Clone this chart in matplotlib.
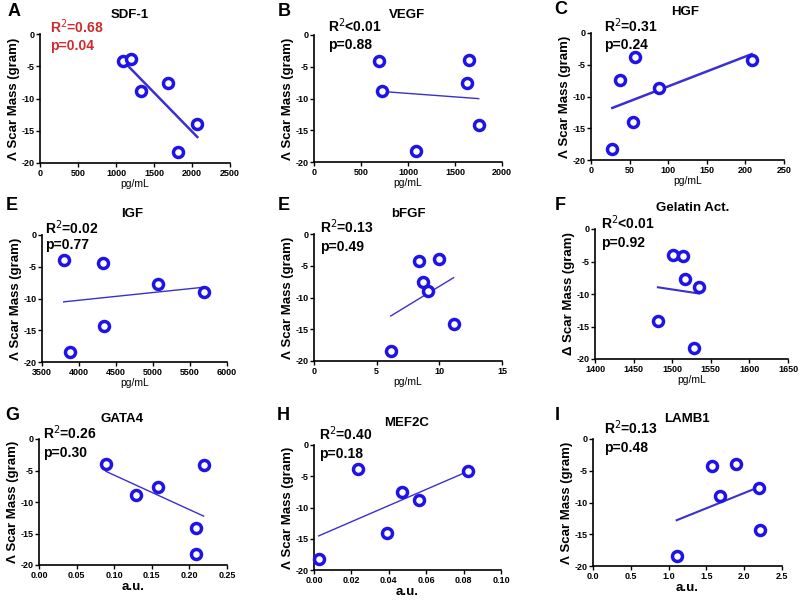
import numpy as np
import matplotlib
matplotlib.use("Agg")
import matplotlib.pyplot as plt

plt.rcParams['font.family'] = ['Liberation Sans', 'DejaVu Sans']
plt.rcParams['axes.unicode_minus'] = False

# scar mass change (gram) vs. each marker
sdf1_x = [1088, 1193, 1333, 1689, 1820, 2070]
sdf1_y = [-4.2, -3.9, -8.8, -7.6, -18.3, -14.0]
vegf_x = [691, 723, 1082, 1628, 1649, 1752]
vegf_y = [-4.1, -8.8, -18.3, -7.6, -3.95, -14.1]
hgf_x = [27.6, 37.9, 53.9, 56.5, 88.4, 208]
hgf_y = [-18.3, -7.4, -14.0, -3.8, -8.7, -4.2]
igf_x = [3793, 4324, 5068, 5685, 4338, 3874]
igf_y = [-4.0, -4.4, -7.7, -9.0, -14.3, -18.5]
bfgf_x = [8.4, 9.97, 8.67, 9.12, 11.14, 6.12]
bfgf_y = [-4.2, -4.0, -7.6, -9.0, -14.2, -18.4]
gel_x = [1500.4, 1513.4, 1516, 1535, 1481.5, 1527.6]
gel_y = [-3.96, -4.16, -7.66, -8.9, -14.1, -18.35]
gata4_x = [0.089, 0.1286, 0.1588, 0.2189, 0.209, 0.209]
gata4_y = [-3.98, -8.86, -7.64, -4.19, -14.06, -18.3]
mef2c_x = [0.0025, 0.0233, 0.0392, 0.047, 0.0562, 0.0826]
mef2c_y = [-18.3, -3.84, -14.08, -7.52, -8.85, -4.16]
lamb1_x = [1.107, 1.569, 1.683, 1.889, 2.197, 2.206]
lamb1_y = [-18.5, -4.2, -8.9, -3.9, -7.7, -14.3]

titles = ['SDF-1', 'VEGF', 'HGF', 'IGF', 'bFGF', 'Gelatin Act.', 'GATA4', 'MEF2C', 'LAMB1']
letters = ['A', 'B', 'C', 'E', 'E', 'F', 'G', 'H', 'I']
r2_text = ['=0.68', '<0.01', '=0.31', '=0.02', '=0.13', '<0.01', '=0.26', '=0.40', '=0.13']
p_text = ['p=0.04', 'p=0.88', 'p=0.24', 'p=0.77', 'p=0.49', 'p=0.92', 'p=0.30', 'p=0.18', 'p=0.48']
xdata = [sdf1_x, vegf_x, hgf_x, igf_x, bfgf_x, gel_x, gata4_x, mef2c_x, lamb1_x]
ydata = [sdf1_y, vegf_y, hgf_y, igf_y, bfgf_y, gel_y, gata4_y, mef2c_y, lamb1_y]
xticks = [np.arange(0, 2501, 500), np.arange(0, 2001, 500), np.arange(0, 251, 50),
          np.arange(3500, 6001, 500), np.arange(0, 16, 5), np.arange(1400, 1651, 50),
          np.arange(0, 0.26, 0.05), np.arange(0, 0.101, 0.02), np.arange(0, 2.51, 0.5)]
xfmt = ['%d', '%d', '%d', '%d', '%d', '%d', '%.2f', '%.2f', '%.1f']
xlabels = ['pg/mL'] * 6 + ['a.u.'] * 3

# layout, in pixels of the 800x601 picture: left, right, top, bottom
boxes = [(40, 230, 34, 163), (314, 502, 35, 162), (591, 784, 33, 160),
         (42, 227, 235, 362), (314, 502, 234, 361), (595, 788, 229, 359),
         (39, 227, 439, 565), (314, 501, 445, 570), (593, 782, 439, 566)]
letter_pos = [(14, 11), (284, 11), (561, 10), (12, 206), (284, 206), (560, 206),
              (12, 416), (283, 416), (557, 415)]
title_pos = [(130, 15), (407, 15), (685, 12), (132, 214), (408, 214), (693, 208),
             (122, 419), (407, 423), (687, 419)]
stat_pos = [(0.053, 1.06, 0.907), (0.074, 1.07, 0.92), (0.067, 1.055, 0.906),
            (0.016, 1.06, 0.92), (0.03, 1.055, 0.90), (0.03, 1.05, 0.89),
            (0.02, 1.05, 0.89), (0.027, 1.09, 0.93), (0.058, 1.09, 0.93)]
line_w = [1.8, 1.0, 1.8, 1.0, 1.0, 1.5, 1.0, 1.0, 1.5]

W, H = 800, 601
fig = plt.figure(figsize=(8, 6.01), dpi=100)

for i in range(9):
    l, r, t, b = boxes[i]
    ax = fig.add_axes([l / W, 1 - b / H, (r - l) / W, (b - t) / H])
    x = np.array(xdata[i])
    y = np.array(ydata[i])
    k, c = np.polyfit(x, y, 1)
    xs = np.array([x.min(), x.max()])
    ax.plot(xs, k * xs + c, color='#3a2fd2', lw=line_w[i], zorder=2)
    ax.plot(x, y, 'o', ms=7.2, mfc='white', mec='#1f14e8', mew=2.5, zorder=3, clip_on=False)

    ax.set_xlim(xticks[i][0], xticks[i][-1])
    ax.set_ylim(-20, 0)
    ax.set_xticks(xticks[i])
    ax.set_xticklabels([xfmt[i] % v for v in xticks[i]])
    ax.set_yticks([0, -5, -10, -15, -20])
    ax.tick_params(labelsize=6.5, length=3, width=1, pad=1)
    for lab in ax.get_xticklabels() + ax.get_yticklabels():
        lab.set_fontweight('bold')
    for s in ['top', 'right']:
        ax.spines[s].set_visible(False)
    for s in ['left', 'bottom']:
        ax.spines[s].set_linewidth(1.2)

    sym = '\u0394' if i == 5 else '\u039b'
    ax.set_ylabel(sym + ' Scar Mass (gram)', fontsize=9.5, fontweight='bold', labelpad=1)
    if xlabels[i] == 'a.u.':
        ax.set_xlabel('a.u.', fontsize=9.5, fontweight='bold', labelpad=1)
    else:
        ax.set_xlabel('pg/mL', fontsize=7.5, labelpad=1)

    col = '#d02a2e' if i == 0 else 'black'
    sx, ry, py = stat_pos[i]
    ax.text(sx, ry, 'R$^{2}$' + r2_text[i], transform=ax.transAxes, fontsize=10,
            fontweight='bold', color=col, va='center', ha='left')
    ax.text(sx, py, p_text[i], transform=ax.transAxes, fontsize=10,
            fontweight='bold', color=col, va='center', ha='left')

    fig.text(letter_pos[i][0] / W, 1 - letter_pos[i][1] / H, letters[i], fontsize=13,
             fontweight='bold', ha='center', va='center')
    fig.text(title_pos[i][0] / W, 1 - title_pos[i][1] / H, titles[i], fontsize=9.5,
             fontweight='bold', ha='center', va='center')

fig.savefig('out.png', dpi=100)
